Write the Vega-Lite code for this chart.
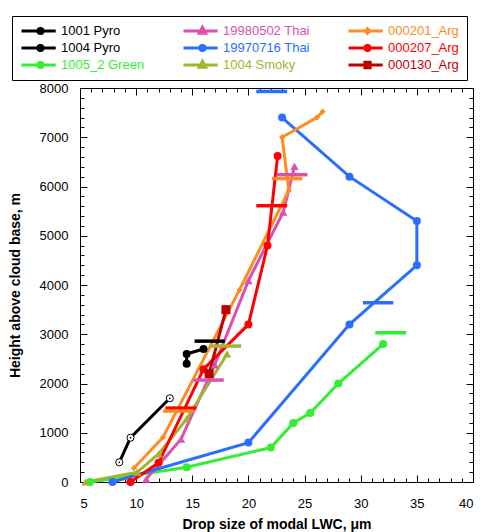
{
  "$schema": "https://vega.github.io/schema/vega-lite/v6.json",
  "width": 393,
  "height": 394,
  "autosize": {"type": "none"},
  "padding": {"left": 80, "top": 88, "right": 8, "bottom": 50},
  "background": "white",
  "config": {
    "view": {"stroke": "#000", "strokeWidth": 1},
    "axis": {"labelFont": "Liberation Sans", "titleFont": "Liberation Sans", "labelFontSize": 13, "titleFontSize": 14, "titleFontWeight": "bold", "labelColor": "#000", "titleColor": "#000", "domain": false, "grid": false, "tickColor": "#000", "tickWidth": 1}
  },
  "datasets": {
    "pts": [
      {"series": "1001 Pyro", "x": 8.5, "y": 400, "ord": 1},
      {"series": "1001 Pyro", "x": 9.5, "y": 900, "ord": 2},
      {"series": "1001 Pyro", "x": 13, "y": 1700, "ord": 3},
      {"series": "1004 Pyro", "x": 14.5, "y": 2400, "ord": 1},
      {"series": "1004 Pyro", "x": 14.5, "y": 2600, "ord": 2},
      {"series": "1004 Pyro", "x": 16, "y": 2700, "ord": 3},
      {"series": "1005_2 Green", "x": 5.9, "y": 0, "ord": 1},
      {"series": "1005_2 Green", "x": 14.5, "y": 300, "ord": 2},
      {"series": "1005_2 Green", "x": 22, "y": 700, "ord": 3},
      {"series": "1005_2 Green", "x": 24, "y": 1200, "ord": 4},
      {"series": "1005_2 Green", "x": 25.5, "y": 1400, "ord": 5},
      {"series": "1005_2 Green", "x": 28, "y": 2000, "ord": 6},
      {"series": "1005_2 Green", "x": 32, "y": 2800, "ord": 7},
      {"series": "19980502 Thai", "x": 10.9, "y": 60, "ord": 1},
      {"series": "19980502 Thai", "x": 14, "y": 870, "ord": 2},
      {"series": "19980502 Thai", "x": 17, "y": 2380, "ord": 3},
      {"series": "19980502 Thai", "x": 20, "y": 4090, "ord": 4},
      {"series": "19980502 Thai", "x": 23.1, "y": 5480, "ord": 5},
      {"series": "19980502 Thai", "x": 24.1, "y": 6410, "ord": 6},
      {"series": "19970716 Thai", "x": 7.9, "y": 0, "ord": 1},
      {"series": "19970716 Thai", "x": 20, "y": 800, "ord": 2},
      {"series": "19970716 Thai", "x": 29, "y": 3200, "ord": 3},
      {"series": "19970716 Thai", "x": 35, "y": 4400, "ord": 4},
      {"series": "19970716 Thai", "x": 35, "y": 5300, "ord": 5},
      {"series": "19970716 Thai", "x": 29, "y": 6200, "ord": 6},
      {"series": "19970716 Thai", "x": 23, "y": 7400, "ord": 7},
      {"series": "1004 Smoky", "x": 5.5, "y": 0, "ord": 1},
      {"series": "1004 Smoky", "x": 10.1, "y": 200, "ord": 2},
      {"series": "1004 Smoky", "x": 12, "y": 570, "ord": 3},
      {"series": "1004 Smoky", "x": 14.5, "y": 1280, "ord": 4},
      {"series": "1004 Smoky", "x": 18.1, "y": 2600, "ord": 5},
      {"series": "000201_Arg", "x": 9.8, "y": 280, "ord": 1},
      {"series": "000201_Arg", "x": 12.4, "y": 910, "ord": 2},
      {"series": "000201_Arg", "x": 19.2, "y": 3900, "ord": 3},
      {"series": "000201_Arg", "x": 23.6, "y": 5920, "ord": 4},
      {"series": "000201_Arg", "x": 23, "y": 7000, "ord": 5},
      {"series": "000201_Arg", "x": 26.1, "y": 7400, "ord": 6},
      {"series": "000201_Arg", "x": 26.6, "y": 7520, "ord": 7},
      {"series": "000207_Arg", "x": 9.5, "y": 0, "ord": 1},
      {"series": "000207_Arg", "x": 12, "y": 390, "ord": 2},
      {"series": "000207_Arg", "x": 16, "y": 2290, "ord": 3},
      {"series": "000207_Arg", "x": 20, "y": 3200, "ord": 4},
      {"series": "000207_Arg", "x": 21.7, "y": 4800, "ord": 5},
      {"series": "000207_Arg", "x": 22.6, "y": 6620, "ord": 6},
      {"series": "000130_Arg", "x": 16.5, "y": 2200, "ord": 1},
      {"series": "000130_Arg", "x": 18, "y": 3500, "ord": 2}
    ],
    "bars": [
      {"series": "1004 Pyro", "xlo": 15.2, "xhi": 17.9, "y": 2860},
      {"series": "1004 Smoky", "xlo": 16.6, "xhi": 19.35, "y": 2760},
      {"series": "19980502 Thai", "xlo": 15.1, "xhi": 17.8, "y": 2070},
      {"series": "000207_Arg", "xlo": 12.6, "xhi": 15.35, "y": 1500},
      {"series": "000201_Arg", "xlo": 12.4, "xhi": 15.1, "y": 1440},
      {"series": "19970716 Thai", "xlo": 20.7, "xhi": 23.45, "y": 7930},
      {"series": "19980502 Thai", "xlo": 22.5, "xhi": 25.25, "y": 6240},
      {"series": "000201_Arg", "xlo": 22.1, "xhi": 24.8, "y": 6160},
      {"series": "000207_Arg", "xlo": 20.7, "xhi": 23.45, "y": 5610},
      {"series": "19970716 Thai", "xlo": 30.2, "xhi": 32.9, "y": 3640},
      {"series": "1005_2 Green", "xlo": 31.3, "xhi": 34.05, "y": 3030}
    ]
  },
  "resolve": {"axis": {"x": "independent", "y": "independent"}},
  "layer": [
    {
      "mark": {"type": "rule", "color": "#000", "strokeWidth": 1},
      "encoding": {"x": {"datum": 24, "type": "quantitative", "axis": null}}
    },
    {
      "data": {"name": "pts"},
      "mark": {"type": "line", "strokeWidth": 3},
      "encoding": {
        "x": {"field": "x", "type": "quantitative", "scale": {"domain": [5, 40], "nice": false, "zero": false},
          "axis": {"orient": "bottom", "values": [5, 10, 15, 20, 25, 30, 35, 40], "format": "d", "ticks": false, "domain": false, "title": "Drop size of modal LWC, μm", "labelPadding": 15, "titlePadding": 7}},
        "y": {"field": "y", "type": "quantitative", "scale": {"domain": [0, 8000], "nice": false, "zero": false},
          "axis": {"orient": "left", "values": [0, 1000, 2000, 3000, 4000, 5000, 6000, 7000, 8000], "format": "d", "ticks": false, "domain": false, "title": "Height above cloud base, m", "labelPadding": 12, "titlePadding": 17}},
        "color": {"field": "series", "type": "nominal",
          "scale": {"domain": ["1001 Pyro", "1004 Pyro", "1005_2 Green", "19980502 Thai", "19970716 Thai", "1004 Smoky", "000201_Arg", "000207_Arg", "000130_Arg"],
                    "range": ["#000000", "#000000", "#33ee33", "#dc50b4", "#2a6eff", "#a0b432", "#ff8c1e", "#ff0000", "#c00000"]},
          "legend": {"orient": "none", "legendX": -68, "legendY": -72, "columns": 3, "title": null, "symbolSize": 1444, "clipHeight": 14, "rowPadding": 3, "columnPadding": 37, "padding": 8, "strokeColor": "#000", "fillColor": "#fff", "labelFont": "Liberation Sans", "labelFontSize": 13, "labelOffset": 0, "symbolOffset": 0, "gridAlign": "each", "labelLimit": 0,
            "encode": {
              "symbols": {"update": {
                "shape": {"signal": "indexof(['19980502 Thai','1004 Smoky'], datum.value) >= 0 ? 'M-1,0H0.8M0,-0.2L0.17,0.12L-0.17,0.12Z' : datum.value === '000201_Arg' ? 'M-1,0H0.8M0,-0.12L0.12,0L0,0.12L-0.12,0Z' : datum.value === '000130_Arg' ? 'M-1,0H0.8M-0.14,-0.14H0.14V0.14H-0.14Z' : datum.value === '1001 Pyro' ? 'M-1,0H-0.13M0.13,0H0.8M0.13,0A0.13,0.13 0 1 1 -0.13,0A0.13,0.13 0 1 1 0.13,0Z' : 'M-1,0H0.8M0.13,0A0.13,0.13 0 1 1 -0.13,0A0.13,0.13 0 1 1 0.13,0Z'"},
                "fill": {"signal": "datum.value === '1001 Pyro' ? '#ffffff' : scale('color', datum.value)"},
                "stroke": {"signal": "scale('color', datum.value)"},
                "strokeWidth": {"value": 3},
                "opacity": {"value": 1}
              }},
              "labels": {"update": {"fill": {"signal": "scale('color', datum.value)"}}}
            }
          }},
        "order": {"field": "ord", "type": "quantitative"}
      }
    },
    {
      "data": {"name": "pts"},
      "transform": [{"filter": "indexof(['1004 Pyro','1005_2 Green','19970716 Thai','000207_Arg'], datum.series) >= 0"}],
      "mark": {"type": "point", "shape": "circle", "filled": true, "size": 64, "opacity": 1},
      "encoding": {
        "x": {"field": "x", "type": "quantitative",
          "axis": {"orient": "bottom", "values": [5,6,7,8,9,10,11,12,13,14,15,16,17,18,19,20,21,22,23,24,25,26,27,28,29,30,31,32,33,34,35,36,37,38,39,40], "labels": false, "title": null, "domain": false,
            "tickSize": {"condition": {"test": "datum.value % 5 === 0", "value": -7}, "value": -4}}},
        "y": {"field": "y", "type": "quantitative",
          "axis": {"orient": "left", "values": [0,200,400,600,800,1000,1200,1400,1600,1800,2000,2200,2400,2600,2800,3000,3200,3400,3600,3800,4000,4200,4400,4600,4800,5000,5200,5400,5600,5800,6000,6200,6400,6600,6800,7000,7200,7400,7600,7800,8000], "labels": false, "title": null, "domain": false,
            "tickSize": {"condition": {"test": "datum.value % 1000 === 0", "value": -7}, "value": -4}}},
        "color": {"field": "series", "type": "nominal"}
      }
    },
    {
      "data": {"name": "pts"},
      "transform": [{"filter": "indexof(['19980502 Thai','1004 Smoky'], datum.series) >= 0"}],
      "mark": {"type": "point", "shape": "triangle-up", "filled": true, "size": 70, "opacity": 1},
      "encoding": {
        "x": {"field": "x", "type": "quantitative",
          "axis": {"orient": "top", "values": [5,6,7,8,9,10,11,12,13,14,15,16,17,18,19,20,21,22,23,24,25,26,27,28,29,30,31,32,33,34,35,36,37,38,39,40], "labels": false, "title": null, "domain": false,
            "tickSize": {"condition": {"test": "datum.value % 5 === 0", "value": -7}, "value": -4}}},
        "y": {"field": "y", "type": "quantitative",
          "axis": {"orient": "right", "values": [0,200,400,600,800,1000,1200,1400,1600,1800,2000,2200,2400,2600,2800,3000,3200,3400,3600,3800,4000,4200,4400,4600,4800,5000,5200,5400,5600,5800,6000,6200,6400,6600,6800,7000,7200,7400,7600,7800,8000], "labels": false, "title": null, "domain": false,
            "tickSize": {"condition": {"test": "datum.value % 1000 === 0", "value": -7}, "value": -4}}},
        "color": {"field": "series", "type": "nominal"}
      }
    },
    {
      "data": {"name": "pts"},
      "transform": [{"filter": "datum.series === '000201_Arg'"}],
      "mark": {"type": "point", "shape": "diamond", "filled": true, "size": 40, "opacity": 1},
      "encoding": {
        "x": {"field": "x", "type": "quantitative", "axis": null},
        "y": {"field": "y", "type": "quantitative", "axis": null},
        "color": {"field": "series", "type": "nominal"}
      }
    },
    {
      "data": {"name": "pts"},
      "transform": [{"filter": "datum.series === '000130_Arg'"}],
      "mark": {"type": "point", "shape": "square", "filled": true, "size": 81, "opacity": 1},
      "encoding": {
        "x": {"field": "x", "type": "quantitative", "axis": null},
        "y": {"field": "y", "type": "quantitative", "axis": null},
        "color": {"field": "series", "type": "nominal"}
      }
    },
    {
      "data": {"name": "pts"},
      "transform": [{"filter": "datum.series === '1001 Pyro'"}],
      "mark": {"type": "point", "shape": "circle", "filled": false, "fill": "#fff", "stroke": "#000", "strokeWidth": 1, "size": 50, "opacity": 1},
      "encoding": {
        "x": {"field": "x", "type": "quantitative", "axis": null},
        "y": {"field": "y", "type": "quantitative", "axis": null}
      }
    },
    {
      "data": {"name": "pts"},
      "transform": [{"filter": "datum.series === '1001 Pyro'"}],
      "mark": {"type": "point", "shape": "circle", "filled": true, "color": "#000", "size": 3, "opacity": 1},
      "encoding": {
        "x": {"field": "x", "type": "quantitative", "axis": null},
        "y": {"field": "y", "type": "quantitative", "axis": null}
      }
    },
    {
      "data": {"name": "bars"},
      "mark": {"type": "rule", "strokeWidth": 3.5},
      "encoding": {
        "x": {"field": "xlo", "type": "quantitative", "axis": null},
        "x2": {"field": "xhi"},
        "y": {"field": "y", "type": "quantitative", "axis": null},
        "color": {"field": "series", "type": "nominal"}
      }
    }
  ]
}
